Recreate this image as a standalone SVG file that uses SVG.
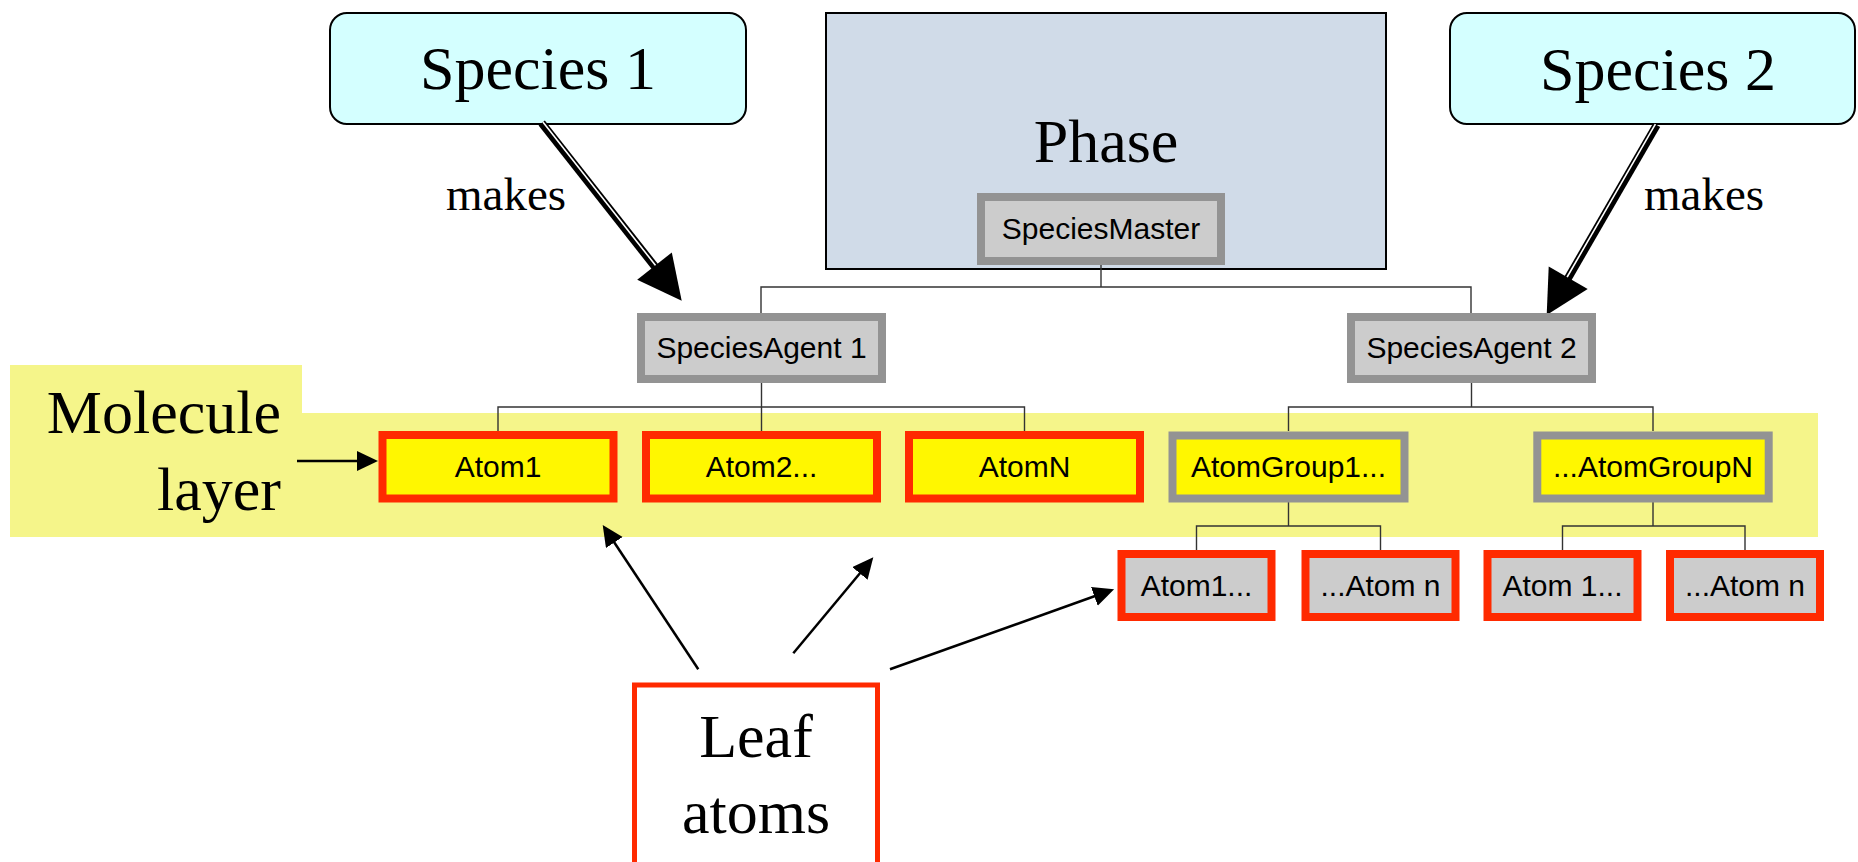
<svg xmlns="http://www.w3.org/2000/svg" width="1858" height="862" viewBox="0 0 1858 862">
<style>
.big{font-family:"Liberation Serif","Times New Roman",serif;font-size:62px;fill:#000}
.mk{font-family:"Liberation Serif","Times New Roman",serif;font-size:47px;fill:#000}
.lbl{font-family:"Liberation Sans",Arial,sans-serif;font-size:30px;fill:#000;text-anchor:middle}
.gbox{fill:#cccccc;stroke:#939393;stroke-width:8}
.ybox{fill:#fff700;stroke:#939393;stroke-width:8}
.rbox{fill:#fff700;stroke:#ff2a00;stroke-width:8}
.rgbox{fill:#cccccc;stroke:#ff2a00;stroke-width:8}
.species{fill:#d4ffff;stroke:#000;stroke-width:2}
.tree{fill:none;stroke:#333;stroke-width:1.4}
.thin{fill:none;stroke:#000;stroke-width:2.5}
</style>
<defs>
<marker id="ah" markerUnits="userSpaceOnUse" markerWidth="22" markerHeight="22" refX="6" refY="10" orient="auto">
<path d="M0,0 L21,10 L0,20 Z" fill="#000"/>
</marker>
</defs>

<g id="molecule-layer-band">
<polygon points="10,365 302,365 302,413 1818,413 1818,537 10,537" fill="#f5f58a"/>
<text class="big" x="281" y="433" text-anchor="end">Molecule</text>
<text class="big" x="281" y="510" text-anchor="end">layer</text>
</g>

<g id="phase">
<rect x="826" y="13" width="560" height="256" fill="#d0dbe8" stroke="#000" stroke-width="2"/>
<text class="big" x="1106" y="162" text-anchor="middle">Phase</text>
</g>

<g id="species1">
<rect class="species" x="330" y="13" width="416" height="111" rx="17"/>
<text class="big" x="538" y="89" text-anchor="middle">Species 1</text>
</g>

<g id="species2">
<rect class="species" x="1450" y="13" width="405" height="111" rx="17"/>
<text class="big" x="1658" y="90" text-anchor="middle">Species 2</text>
</g>

<g id="connectors">
<path class="tree" d="M1101,265 V287 M761,313 V287 H1471 V313"/>
<path class="tree" d="M761.5,383 V407 M498,431 V407 H1024.5 V431 M761.5,407 V431"/>
<path class="tree" d="M1471.5,383 V407 M1288.5,431 V407 H1653 V431"/>
<path class="tree" d="M1288.5,502 V526 M1196.5,550 V526 H1380.5 V550"/>
<path class="tree" d="M1653,502 V526 M1562.5,550 V526 H1745 V550"/>
<!-- makes arrows -->
<line x1="541.7" y1="123" x2="656" y2="268" stroke="#000" stroke-width="8"/>
<line x1="542.9" y1="122" x2="656" y2="266" stroke="#fff" stroke-width="1.6"/>
<polygon points="681.7,300.7 671.8,252.5 637.2,279.7" fill="#000"/>
<text class="mk" x="446" y="210">makes</text>
<line x1="1656.7" y1="125" x2="1567" y2="280" stroke="#000" stroke-width="8"/>
<line x1="1655.4" y1="124.2" x2="1566" y2="279" stroke="#fff" stroke-width="1.6"/>
<polygon points="1546.7,315 1587.7,289.1 1548.7,266.5" fill="#000"/>
<text class="mk" x="1644" y="210">makes</text>
<!-- thin arrows -->
<line class="thin" x1="297" y1="461" x2="363" y2="461" marker-end="url(#ah)"/>
<line class="thin" x1="698.3" y1="669.3" x2="611" y2="537.5" marker-end="url(#ah)"/>
<line class="thin" x1="793.3" y1="653.3" x2="863.7" y2="568.8" marker-end="url(#ah)"/>
<line class="thin" x1="890" y1="669.3" x2="1100" y2="594.3" marker-end="url(#ah)"/>
</g>

<g id="species-master">
<rect class="gbox" x="981" y="197" width="240" height="64"/>
<text class="lbl" x="1101" y="239">SpeciesMaster</text>
</g>

<g id="species-agent-1">
<rect class="gbox" x="641" y="317" width="241" height="62"/>
<text class="lbl" x="761.5" y="358">SpeciesAgent 1</text>
</g>

<g id="species-agent-2">
<rect class="gbox" x="1351" y="317" width="241" height="62"/>
<text class="lbl" x="1471.5" y="358">SpeciesAgent 2</text>
</g>

<g id="atom1">
<rect class="rbox" x="382.5" y="435" width="231" height="63.5"/>
<text class="lbl" x="498" y="477">Atom1</text>
</g>

<g id="atom2">
<rect class="rbox" x="646" y="435" width="231" height="63.5"/>
<text class="lbl" x="761.5" y="477">Atom2...</text>
</g>

<g id="atomN">
<rect class="rbox" x="909" y="435" width="231" height="63.5"/>
<text class="lbl" x="1024.5" y="477">AtomN</text>
</g>

<g id="atomgroup1">
<rect class="ybox" x="1172.5" y="435.5" width="232" height="63"/>
<text class="lbl" x="1288.5" y="477">AtomGroup1...</text>
</g>

<g id="atomgroupN">
<rect class="ybox" x="1537.3" y="435.5" width="231.4" height="63"/>
<text class="lbl" x="1653" y="477">...AtomGroupN</text>
</g>

<g id="leaf-a1">
<rect class="rgbox" x="1121.5" y="554" width="150" height="63"/>
<text class="lbl" x="1196.5" y="596">Atom1...</text>
</g>

<g id="leaf-an">
<rect class="rgbox" x="1305.5" y="554" width="150" height="63"/>
<text class="lbl" x="1380.5" y="596">...Atom n</text>
</g>

<g id="leaf-b1">
<rect class="rgbox" x="1487.5" y="554" width="150" height="63"/>
<text class="lbl" x="1562.5" y="596">Atom 1...</text>
</g>

<g id="leaf-bn">
<rect class="rgbox" x="1670" y="554" width="150" height="63"/>
<text class="lbl" x="1745" y="596">...Atom n</text>
</g>

<g id="leaf-atoms">
<rect x="634.5" y="685" width="243" height="185" fill="#fff" stroke="#ff2a00" stroke-width="5"/>
<text class="big" x="756" y="757" text-anchor="middle">Leaf</text>
<text class="big" x="756" y="833" text-anchor="middle">atoms</text>
</g>
</svg>
